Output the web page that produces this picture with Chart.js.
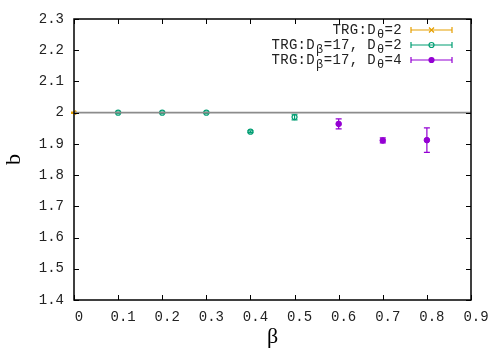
<!DOCTYPE html>
<html>
<head>
<meta charset="utf-8">
<script src="https://cdn.jsdelivr.net/npm/chart.js@4/dist/chart.umd.min.js"></script>
<style>
  html, body { margin: 0; padding: 0; background: #fff; }
  #wrap { width: 498px; height: 349px; }
</style>
</head>
<body>
<div id="wrap"><canvas id="c"></canvas></div>
<script>
// dados
const xTicks = [0, 0.1, 0.2, 0.3, 0.4, 0.5, 0.6, 0.7, 0.8, 0.9];
const yTicks = [1.4, 1.5, 1.6, 1.7, 1.8, 1.9, 2.0, 2.1, 2.2, 2.3];

const betaA = [0];
const bA = [2.0];
const errA = [0.002];

const betaB = [0.1, 0.2, 0.3, 0.4, 0.5];
const bB = [2.0, 2.0, 2.0, 1.939, 1.986];
const errB = [0.002, 0.002, 0.002, 0.003, 0.009];

const betaC = [0.6, 0.7, 0.8];
const bC = [1.964, 1.911, 1.912];
const errC = [0.016, 0.008, 0.039];

const refLineX = [0, 0.9];
const refLineY = [2, 2];

const MONO = "'Liberation Mono', 'Courier New', 'DejaVu Sans Mono', monospace";
const SERIF = "'Liberation Serif', 'DejaVu Serif', serif";

const orange = "#e69f00";
const green = "#009e73";
const purple = "#9400d3";

const pts = (xs, ys) => xs.map((x, i) => ({ x, y: ys[i] }));

// legenda: texto com subscritos
const legendRows = [
  { parts: [["TRG:D", 0], ["θ", 1], ["=2", 0]], color: orange, style: "crossRot", fill: false },
  { parts: [["TRG:D", 0], ["β", 1], ["=17, D", 0], ["θ", 1], ["=2", 0]], color: green, style: "circle", fill: false },
  { parts: [["TRG:D", 0], ["β", 1], ["=17, D", 0], ["θ", 1], ["=4", 0]], color: purple, style: "circle", fill: true },
];

const errorBars = {
  id: "errorBars",
  beforeDatasetsDraw(chart) {
    const { ctx, scales: { x, y } } = chart;
    chart.data.datasets.forEach((ds) => {
      if (!ds.err) return;
      ctx.save();
      ctx.strokeStyle = ds.borderColor;
      ctx.lineWidth = 1.2;
      ds.data.forEach((p, i) => {
        const px = x.getPixelForValue(p.x);
        const y0 = y.getPixelForValue(p.y - ds.err[i]);
        const y1 = y.getPixelForValue(p.y + ds.err[i]);
        ctx.beginPath();
        ctx.moveTo(px, y0); ctx.lineTo(px, y1);
        ctx.moveTo(px - 3, y0); ctx.lineTo(px + 3, y0);
        ctx.moveTo(px - 3, y1); ctx.lineTo(px + 3, y1);
        ctx.stroke();
      });
      ctx.restore();
    });
  },
};

const frame = {
  id: "frame",
  afterDraw(chart) {
    const { ctx, chartArea: a, scales: { x, y } } = chart;
    ctx.save();
    ctx.strokeStyle = "#000";
    ctx.lineWidth = 1.5;
    ctx.strokeRect(a.left, a.top, a.right - a.left, a.bottom - a.top);
    ctx.lineWidth = 1;
    ctx.beginPath();
    xTicks.forEach((v) => {
      const px = Math.round(x.getPixelForValue(v)) + 0.5;
      ctx.moveTo(px, a.bottom); ctx.lineTo(px, a.bottom - 5);
      ctx.moveTo(px, a.top); ctx.lineTo(px, a.top + 5);
    });
    yTicks.forEach((v) => {
      const py = Math.round(y.getPixelForValue(v)) + 0.5;
      ctx.moveTo(a.left, py); ctx.lineTo(a.left + 5, py);
      ctx.moveTo(a.right, py); ctx.lineTo(a.right - 5, py);
    });
    ctx.stroke();

    // títulos dos eixos
    ctx.fillStyle = "#000";
    ctx.font = "22px " + SERIF;
    ctx.textAlign = "center";
    ctx.textBaseline = "middle";
    ctx.fillText("β", (a.left + a.right) / 2, 337);
    ctx.save();
    ctx.translate(14, (a.top + a.bottom) / 2);
    ctx.rotate(-Math.PI / 2);
    ctx.fillText("b", 0, 0);
    ctx.restore();

    // legenda (cada caractere ocupa a mesma largura, subscritos inclusive)
    const adv = 8.7;
    const textRight = 402, x0 = 411, x1 = 452, xm = 431.5;
    ctx.fillStyle = "#222";
    legendRows.forEach((row, r) => {
      const cy = 30 + r * 15;
      const n = row.parts.reduce((s, [t]) => s + t.length, 0);
      let cx = textRight - n * adv;
      ctx.textAlign = "left";
      ctx.textBaseline = "middle";
      row.parts.forEach(([t, sub]) => {
        ctx.font = (sub ? "12px " : "14px ") + MONO;
        for (const ch of t) {
          ctx.fillText(ch, cx + (sub ? 1 : 0), cy + (sub ? 5 : 0));
          cx += adv;
        }
      });
      ctx.strokeStyle = row.color;
      ctx.lineWidth = 1.2;
      ctx.beginPath();
      ctx.moveTo(x0, cy); ctx.lineTo(x1, cy);
      ctx.moveTo(x0, cy - 3); ctx.lineTo(x0, cy + 3);
      ctx.moveTo(x1, cy - 3); ctx.lineTo(x1, cy + 3);
      ctx.stroke();
      if (row.style === "crossRot") {
        ctx.beginPath();
        ctx.moveTo(xm - 2.5, cy - 2.5); ctx.lineTo(xm + 2.5, cy + 2.5);
        ctx.moveTo(xm - 2.5, cy + 2.5); ctx.lineTo(xm + 2.5, cy - 2.5);
        ctx.stroke();
      } else {
        ctx.beginPath();
        ctx.arc(xm, cy, 2.5, 0, Math.PI * 2);
        if (row.fill) { ctx.fillStyle = row.color; ctx.fill(); }
        ctx.stroke();
        ctx.fillStyle = "#222";
      }
    });
    ctx.restore();
  },
};

function draw() {
  new Chart(document.getElementById("c"), {
    type: "scatter",
    data: {
      datasets: [
        {
          type: "line",
          data: pts(refLineX, refLineY),
          borderColor: "#8c8c8c",
          borderWidth: 1.8,
          pointRadius: 0,
        },
        {
          data: pts(betaA, bA),
          err: errA,
          borderColor: orange,
          backgroundColor: orange,
          pointStyle: "crossRot",
          pointRadius: 3,
          borderWidth: 1.2,
        },
        {
          data: pts(betaB, bB),
          err: errB,
          borderColor: green,
          backgroundColor: "rgba(0,0,0,0)",
          pointStyle: "circle",
          pointRadius: 2.5,
          borderWidth: 1.2,
        },
        {
          data: pts(betaC, bC),
          err: errC,
          borderColor: purple,
          backgroundColor: purple,
          pointStyle: "circle",
          pointRadius: 2.8,
          borderWidth: 1,
        },
      ],
    },
    options: {
      responsive: true,
      maintainAspectRatio: false,
      animation: false,
      layout: { padding: { left: 0, top: 19, right: 27, bottom: 0 } },
      plugins: { legend: { display: false }, tooltip: { enabled: false } },
      scales: {
        x: {
          type: "linear",
          min: 0,
          max: 0.9,
          afterFit: (s) => { s.height = 49; },
          afterBuildTicks: (s) => { s.ticks = xTicks.map((v) => ({ value: v })); },
          grid: { display: false, drawTicks: false },
          border: { display: false },
          ticks: {
            padding: 9,
            labelOffset: 5,
            color: "#222",
            font: { family: MONO, size: 14 },
            maxRotation: 0,
            callback: (v) => String(+v.toFixed(1)),
          },
        },
        y: {
          type: "linear",
          min: 1.4,
          max: 2.3,
          afterFit: (s) => { s.width = 74; },
          afterBuildTicks: (s) => { s.ticks = yTicks.map((v) => ({ value: v })); },
          grid: { display: false, drawTicks: false },
          border: { display: false },
          ticks: {
            padding: 10,
            color: "#222",
            font: { family: MONO, size: 14 },
            callback: (v) => String(+v.toFixed(1)),
          },
        },
      },
    },
    plugins: [errorBars, frame],
  });
}

if (document.fonts && document.fonts.load) {
  Promise.all([
    document.fonts.load("14px 'Liberation Mono'"),
    document.fonts.load("22px 'Liberation Serif'"),
  ]).then(draw, draw);
} else {
  draw();
}
</script>
</body>
</html>
